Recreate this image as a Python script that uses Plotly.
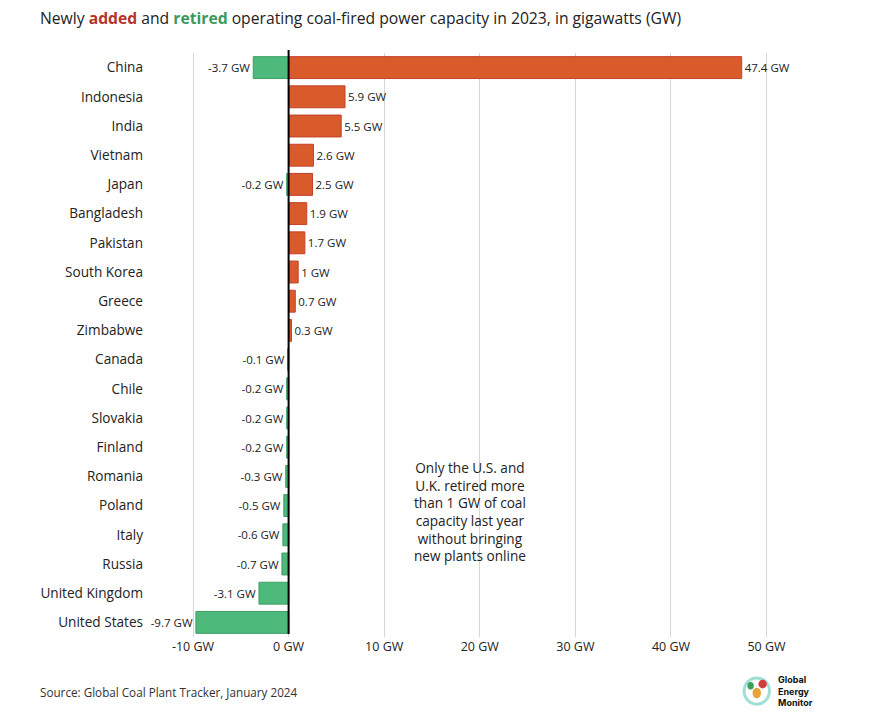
import plotly.graph_objects as go

countries = ["China", "Indonesia", "India", "Vietnam", "Japan", "Bangladesh", "Pakistan",
             "South Korea", "Greece", "Zimbabwe", "Canada", "Chile", "Slovakia", "Finland",
             "Romania", "Poland", "Italy", "Russia", "United Kingdom", "United States"]
added = [47.4, 5.9, 5.5, 2.6, 2.5, 1.9, 1.7, 1, 0.7, 0.3, 0, 0, 0, 0, 0, 0, 0, 0, 0, 0]
retired = [-3.7, 0, 0, 0, -0.2, 0, 0, 0, 0, 0, -0.1, -0.2, -0.2, -0.2, -0.3, -0.5, -0.6, -0.7, -3.1, -9.7]
x_ticks = [-10, 0, 10, 20, 30, 40, 50]
x_tick_labels = ["-10 GW", "0 GW", "10 GW", "20 GW", "30 GW", "40 GW", "50 GW"]

FONT = "Open Sans"

def lab(v):
    if v == 0:
        return ""
    return ("%g" % v) + " GW"

fig = go.Figure()
fig.add_trace(go.Bar(
    y=countries, x=retired, orientation="h",
    marker=dict(color="#4DB97A", line=dict(color="#3E9E66", width=1)),
    text=[lab(v) for v in retired], textposition="outside",
    textfont=dict(family=FONT, size=11.5, color="#222"),
    cliponaxis=False, constraintext="none", hoverinfo="skip",
))
fig.add_trace(go.Bar(
    y=countries, x=added, orientation="h",
    marker=dict(color="#D95A2B", line=dict(color="#C4412A", width=1)),
    text=[lab(v) for v in added], textposition="outside",
    textfont=dict(family=FONT, size=11.5, color="#222"),
    cliponaxis=False, constraintext="none", hoverinfo="skip",
))

fig.update_layout(
    width=877, height=722,
    margin=dict(l=150, r=77, t=53, b=85),
    paper_bgcolor="white", plot_bgcolor="white",
    barmode="relative", bargap=0.25, showlegend=False,
    font=dict(family=FONT, size=13, color="#222"),
    xaxis=dict(range=[-14.5, 53.5], tickvals=x_ticks, ticktext=x_tick_labels,
               showgrid=True, gridcolor="#d6d6d6", gridwidth=1,
               zeroline=False,
               tickfont=dict(size=12.5, color="#222"), fixedrange=True),
    yaxis=dict(categoryorder="array", categoryarray=countries, autorange="reversed",
               showgrid=False, ticks="", ticklabelstandoff=6,
               tickfont=dict(size=13.6, color="#222")),
    annotations=[
        dict(xref="paper", yref="paper", x=-0.172, y=1.06, xanchor="left", yanchor="middle",
             showarrow=False, align="left",
             text="Newly <b><span style='color:#B5332A'>added</span></b> and "
                  "<b><span style='color:#3A9A5B'>retired</span></b> operating coal-fired power capacity in 2023, in gigawatts (GW)",
             font=dict(size=15.7, color="#222")),
        dict(x=19, y=15.2, xref="x", yref="y", showarrow=False, align="center",
             text="Only the U.S. and<br>U.K. retired more<br>than 1 GW of coal<br>capacity last year<br>without bringing<br>new plants online",
             font=dict(size=13.6, color="#222"), yanchor="middle"),
        dict(xref="paper", yref="paper", x=-0.172, y=-0.094, xanchor="left", yanchor="middle",
             showarrow=False, text="Source: Global Coal Plant Tracker, January 2024",
             font=dict(size=11.7, color="#333")),
        dict(xref="paper", yref="paper", x=0.963, y=-0.092, xanchor="left", yanchor="middle",
             showarrow=False, align="left", text="<b>Global<br>Energy<br>Monitor</b>",
             font=dict(family="Inter", size=9, color="#111")),
    ],
    shapes=[
        dict(type="line", xref="x", yref="paper", x0=0, x1=0, y0=0.005, y1=1.005,
             line=dict(color="#000", width=2), layer="above"),
        dict(type="circle", xref="paper", yref="paper", x0=0.914, x1=0.953, y0=-0.115, y1=-0.07,
             line=dict(color="#9fe0d6", width=3)),
        dict(type="circle", xref="paper", yref="paper", x0=0.927, x1=0.94, y0=-0.105, y1=-0.087,
             fillcolor="#e8a23a", line=dict(width=0)),
        dict(type="circle", xref="paper", yref="paper", x0=0.936, x1=0.949, y0=-0.088, y1=-0.073,
             fillcolor="#d23c3c", line=dict(width=0)),
        dict(type="circle", xref="paper", yref="paper", x0=0.919, x1=0.929, y0=-0.09, y1=-0.077,
             fillcolor="#3aa35b", line=dict(width=0)),
    ],
)

fig.write_html("out.html")
